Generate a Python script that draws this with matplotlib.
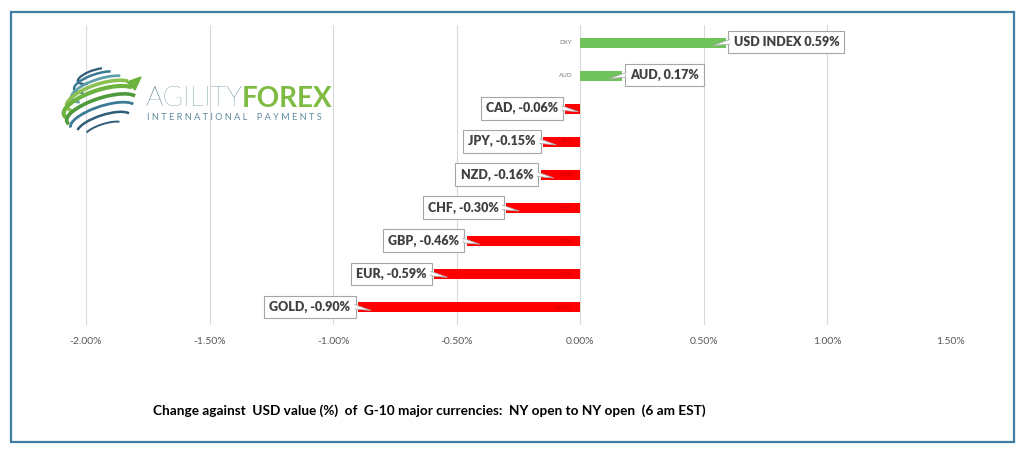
import matplotlib
matplotlib.use("Agg")
import matplotlib.pyplot as plt
from matplotlib.patches import Arc, Rectangle, Polygon
from matplotlib.transforms import IdentityTransform
import numpy as np

# ---- data ----
categories = ["DXY", "AUD", "CAD", "JPY", "NZD", "CHF", "GBP", "EUR", "GOLD"]
label_names = ["USD INDEX", "AUD", "CAD", "JPY", "NZD", "CHF", "GBP", "EUR", "GOLD"]
values = [0.59, 0.17, -0.06, -0.15, -0.16, -0.30, -0.46, -0.59, -0.90]
xticks = [-2.0, -1.5, -1.0, -0.5, 0.0, 0.5, 1.0, 1.5]
xticklabels = ["-2.00%", "-1.50%", "-1.00%", "-0.50%", "0.00%", "0.50%", "1.00%", "1.50%"]
subtitle = "Change against  USD value (%)  of  G-10 major currencies:  NY open to NY open  (6 am EST)"

W, H = 1024, 455
fig = plt.figure(figsize=(W / 100, H / 100), dpi=100)
fig.patch.set_facecolor("white")
FONT = "Lato"

def px(x0, y0, x1, y1):
    return [x0 / W, 1 - y1 / H, (x1 - x0) / W, (y1 - y0) / H]

# border frame
fig.patches.append(Rectangle((11 / W, 1 - 442 / H), (1014 - 11) / W, (442 - 12) / H,
                             transform=fig.transFigure, fill=False,
                             edgecolor="#3F7FA3", linewidth=1.6))

# ---- main chart ----
ax = fig.add_axes(px(86, 25, 951, 325))
n = len(categories)
ypos = np.arange(n)
colors = ["#70C25A" if v > 0 else "#FF0000" for v in values]
ax.barh(ypos, values, height=0.3, color=colors, zorder=3)
ax.set_xlim(-2.0, 1.5)
ax.set_ylim(n - 0.5 + 0.03, -0.5 - 0.03)
ax.set_xticks(xticks)
ax.set_xticklabels(xticklabels, fontsize=7.5, color="#595959", family=FONT)
ax.tick_params(axis="x", length=0, pad=9)
ax.set_yticks([])
ax.grid(axis="x", color="#D9D9D9", linewidth=0.8, zorder=0)
for s in ax.spines.values():
    s.set_visible(False)

for i, (cat, nm, v) in enumerate(zip(categories, label_names, values)):
    sign = 1 if v > 0 else -1
    ax.annotate(cat, xy=(0, i), xytext=(-8, 0), textcoords="offset pixels",
                ha="right", va="center", fontsize=4.5,
                color="#7F7F7F" if v > 0 else "#D00000",
                family=FONT, zorder=4)
    txt = f"{nm} {v:.2f}%" if nm == "USD INDEX" else f"{nm}, {v:.2f}%"
    ax.annotate(txt, xy=(v, i), xytext=(sign * 7.5, 0.5),
                textcoords="offset pixels",
                ha="left" if sign > 0 else "right", va="center",
                fontsize=9, fontweight="heavy", color="#404040", family=FONT,
                bbox=dict(boxstyle="square,pad=0.42", fc="white", ec="#A6A6A6", lw=0.8),
                zorder=6)
    # callout pointer (white wedge reaching into the bar end)
    xe, yc = ax.transData.transform((v, i))
    tri = [[xe + sign * 3.6, yc + 3], [xe + sign * 3.6, yc - 1.5], [xe - sign * 13, yc - 3]]
    ax.add_patch(Polygon(tri, closed=True, transform=IdentityTransform(),
                         fc="white", ec="#B0B0B0", lw=0.6, zorder=7, clip_on=False))
    ax.add_patch(Polygon([[xe + sign * 3.2, yc + 2.6], [xe + sign * 3.2, yc - 1.1],
                          [xe + sign * 4.4, yc - 1.1], [xe + sign * 4.4, yc + 2.6]],
                         closed=True, transform=IdentityTransform(),
                         fc="white", ec="none", zorder=8, clip_on=False))

# subtitle
fig.text(153 / W, 1 - 411 / H, subtitle, fontsize=9.8, fontweight="bold",
         color="black", family=FONT, va="center", ha="left")

# ---- logo ----
lx0, ly0, lx1, ly1 = 55, 60, 345, 140
lax = fig.add_axes(px(lx0, ly0, lx1, ly1))
lax.set_xlim(0, lx1 - lx0)
lax.set_ylim(ly1 - ly0, 0)
lax.axis("off")
cx, cy = 100 - lx0, 102 - ly0
arcs = [
    (36, 12, 150, 330, "#2F5C78", 1.6, -5, -26),
    (48, 16, 160, 340, "#3B7A94", 1.8, -3, -20),
    (60, 20, 165, 345, "#5FA0A8", 2.0, 0, -13),
    (70, 24, 170, 350, "#8CC152", 2.6, 0, -6),
    (76, 26, 172, 352, "#6DB33F", 3.0, 0, 1),
    (74, 24, 175, 355, "#4F9A3A", 2.6, 2, 8),
    (68, 22, 180, 355, "#3B7A94", 2.0, 3, 15),
    (56, 18, 185, 355, "#2F5C78", 1.8, 4, 22),
    (40, 12, 190, 350, "#2F5C78", 1.4, 4, 28),
]
for w_, h_, t1, t2, c, lw, dx, dy in arcs:
    lax.add_patch(Arc((cx + dx, cy + dy), w_, h_, angle=-18, theta1=t1, theta2=t2,
                      color=c, lw=lw))
lax.add_patch(Polygon([[72, 22], [86, 17], [80, 30]], closed=True, color="#6DB33F"))
t1 = lax.text(145 - lx0, 99 - ly0, "AGILITY", fontsize=20, color="#3E6E84",
              family=FONT, fontweight="light", va="center", ha="left")
fig.canvas.draw()
bb = t1.get_window_extent()
x_end = lax.transData.inverted().transform((bb.x1, bb.y0))[0]
lax.text(x_end, 99 - ly0, "FOREX", fontsize=20, color="#7DBB42",
         family=FONT, fontweight="bold", va="center", ha="left")
lax.text(147 - lx0, 117 - ly0, "I N T E R N A T I O N A L    P A Y M E N T S",
         fontsize=6.6, color="#5E8A9C", family=FONT, va="center", ha="left")

fig.savefig("out.png", dpi=100, facecolor="white")
